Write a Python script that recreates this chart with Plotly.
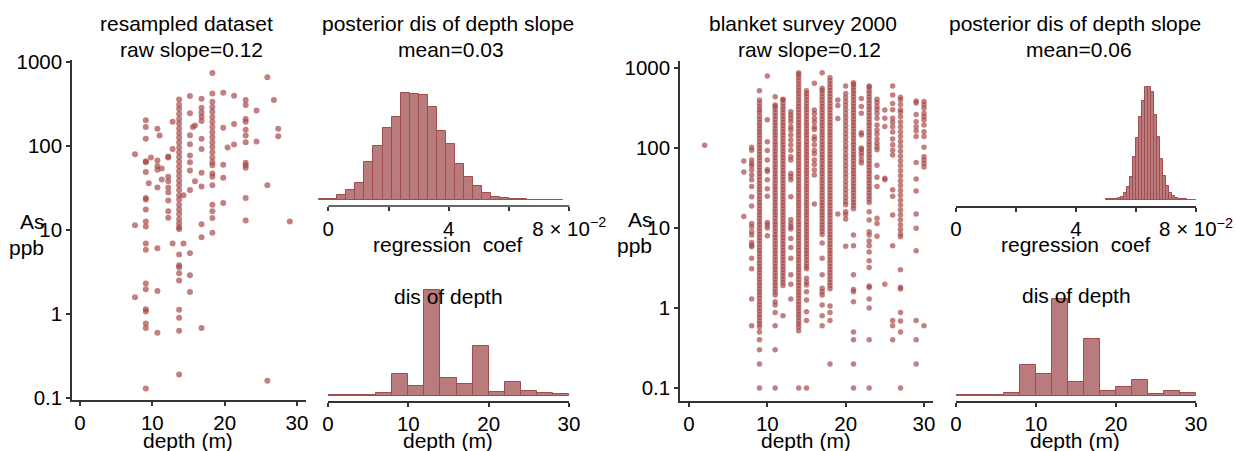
import plotly.graph_objects as go

# ---------------- resampled dataset: depth (m) and As (ppb) per depth column ----------------
res_depths = [7.6, 9.1, 9.5, 9.8, 10.7, 11.0, 11.3, 12.2, 12.8, 13.7, 14.3, 15.2, 15.6, 15.9,
              16.8, 18.3, 19.8, 20.4, 21.3, 22.9, 24.4, 25.9, 26.8, 27.4, 29.0]
res_as = [
    [80, 11.4, 1.58],
    [202, 168, 122, 66, 64, 49, 24, 23, 17.5, 12.6, 11, 6.9, 5.8, 2.3, 1.97, 1.14, 1.07, 0.77, 0.68, 0.13],
    [36],
    [73],
    [161, 67, 58, 52, 32, 6.05, 1.88, 0.6],
    [133],
    [54, 40],
    [75, 73, 43, 38, 32, 28, 22.5, 16.7, 14],
    [195, 92, 6.9],
    [359, 310, 275, 240, 210, 185, 162, 142, 125, 110, 96, 84, 74, 65, 57, 50, 44, 38.5, 34, 30, 26,
     23, 20, 17.5, 15.5, 13.5, 12, 10.8, 10.3, 5.1, 3.8, 3.6, 3.05, 2.5, 1.12, 0.9, 0.63, 0.19],
    [26, 6.9],
    [394, 245, 134, 105, 77, 64, 51, 30, 5.3, 2.9, 1.83],
    [168],
    [176, 38],
    [365, 286, 250, 223, 198, 122, 92, 48, 33, 11.7, 8.2, 0.68],
    [740, 423, 336, 292, 255, 222, 193, 168, 146, 127, 111, 97, 84, 73, 64, 59, 47, 43, 34, 20, 16.7, 13.9, 9.3],
    [431, 165, 60, 42, 21],
    [96],
    [397, 183, 104],
    [352, 307, 209, 195, 156, 133, 111, 63, 59, 55, 24, 13],
    [265, 113],
    [657, 34, 0.16],
    [352],
    [161, 131],
    [12.6],
]

# ---------------- blanket survey 2000: depth (m) and As (ppb) per depth column ----------------
bs_depths = [2, 7, 8, 9, 10, 11, 12, 13, 14, 15, 16, 17, 18, 19, 20, 21, 22, 23, 24, 25, 26, 27, 29, 30]
bs_as = [
    [108],
    [69, 50, 13.9],
    [102, 94, 71, 64, 60, 53, 46, 40, 33, 24.6, 18.8, 11.4, 10.4, 9, 8.2, 6.6, 6.1, 5.85, 4.2, 3.1, 1.3, 0.6],
    [521, 398, 365, 330, 300, 280, 251, 229, 209, 191, 174, 158, 145, 132, 120, 110, 100, 91.2, 83.2,
     75.9, 69.2, 63.1, 57.5, 52.5, 47.9, 43.7, 39.8, 36.3, 33.1, 30.2, 27.5, 25.1, 22.9, 20.9, 19.1,
     17.4, 15.8, 14.5, 13.2, 12.0, 11.0, 10.0, 9.12, 8.32, 7.59, 6.92, 6.31, 5.75, 5.25, 4.79, 4.37,
     3.98, 3.63, 3.31, 3.02, 2.75, 2.51, 2.29, 2.09, 1.91, 1.74, 1.58, 1.45, 1.32, 1.20, 1.10, 1.00,
     0.91, 0.83, 0.76, 0.69, 0.63, 0.58, 0.5, 0.4, 0.3, 0.2, 0.1],
    [794, 226, 120, 93, 71, 54, 51, 40, 31, 25, 11.7, 10.9, 10, 8],
    [436, 345, 331, 302, 275, 251, 229, 209, 191, 174, 158, 145, 132, 120, 110, 100, 91.2, 83.2, 75.9,
     69.2, 63.1, 57.5, 52.5, 47.9, 43.7, 39.8, 36.3, 33.1, 30.2, 27.5, 25.1, 22.9, 20.9, 19.1, 17.4,
     15.8, 14.5, 13.2, 12.0, 11.0, 10.0, 9.12, 8.32, 7.59, 6.92, 6.31, 5.75, 5.25, 4.79, 4.37, 3.98,
     3.63, 3.31, 3.02, 2.75, 2.51, 2.29, 2.09, 1.91, 1.74, 1.58, 1.45, 1.2, 1.09, 0.88, 0.6, 0.3, 0.1],
    [407, 398, 363, 331, 302, 275, 251, 229, 209, 191, 174, 158, 145, 132, 120, 110, 100, 91.2, 83.2,
     75.9, 69.2, 63.1, 57.5, 52.5, 47.9, 43.7, 39.8, 36.3, 33.1, 30.2, 27.5, 25.1, 22.9, 20.9, 19.1,
     17.4, 15.8, 14.5, 13.2, 12.0, 11.0, 10.0, 9.12, 8.32, 7.59, 6.92, 6.31, 5.75, 5.25, 4.79, 4.37,
     3.98, 3.63, 3.31, 3.02, 2.75, 2.51, 2.29, 2.09, 1.91, 0.8],
    [284, 258, 235, 213, 185, 168, 145, 126, 109, 94, 78, 71, 48, 44, 40, 24.6, 12.8, 11.4, 10.4,
     9.7, 7.4, 5.7, 4.2, 2.6, 1.98, 1.3],
    [872, 832, 759, 692, 631, 575, 525, 479, 437, 398, 363, 331, 302, 275, 251, 229, 209, 191, 174,
     158, 145, 132, 120, 110, 100, 91.2, 83.2, 75.9, 69.2, 63.1, 57.5, 52.5, 47.9, 43.7, 39.8, 36.3,
     33.1, 30.2, 27.5, 25.1, 22.9, 20.9, 19.1, 17.4, 15.8, 14.5, 13.2, 12.0, 11.0, 10.0, 9.12, 8.32,
     7.59, 6.92, 6.31, 5.75, 5.25, 4.79, 4.37, 3.98, 3.63, 3.31, 3.02, 2.75, 2.51, 2.29, 2.09, 1.91,
     1.74, 1.58, 1.45, 1.32, 1.20, 1.10, 1.00, 0.91, 0.83, 0.76, 0.69, 0.63, 0.58, 0.52, 0.1],
    [520, 479, 437, 398, 363, 331, 302, 275, 251, 229, 209, 191, 174, 158, 145, 132, 120, 110, 100,
     91.2, 83.2, 75.9, 69.2, 63.1, 57.5, 52.5, 47.9, 43.7, 39.8, 36.3, 33.1, 30.2, 27.5, 25.1, 22.9,
     20.9, 19.1, 17.4, 15.8, 14.5, 13.2, 12.0, 11.0, 10.0, 9.12, 8.32, 7.59, 6.92, 6.31, 5.75, 5.25,
     4.79, 4.37, 3.98, 3.63, 3.31, 3.1, 2.35, 2.1, 1.94, 1.6, 1.26, 0.9, 0.7, 0.1],
    [644, 299, 270, 236, 212, 185, 170, 138, 128, 110, 94, 85, 71, 62, 53, 46, 20],
    [872, 560, 525, 479, 437, 398, 363, 331, 302, 275, 251, 229, 209, 191, 174, 158, 145, 132, 120,
     110, 100, 91.2, 83.2, 75.9, 69.2, 63.1, 57.5, 52.5, 47.9, 43.7, 39.8, 36.3, 33.1, 30.2, 27.5,
     25.1, 22.9, 20.9, 19.1, 17.4, 15.8, 14.5, 13.2, 12.0, 11.0, 10.0, 9.12, 8.32, 6.5, 4.2, 2.6,
     1.76, 1.6, 1.45, 1.09, 0.8, 0.6],
    [759, 692, 631, 575, 525, 479, 437, 398, 363, 331, 302, 275, 251, 229, 209, 191, 174, 158, 145,
     132, 120, 110, 100, 91.2, 83.2, 75.9, 69.2, 63.1, 57.5, 52.5, 47.9, 43.7, 39.8, 36.3, 33.1, 30.2,
     27.5, 25.1, 22.9, 20.9, 19.1, 17.4, 15.8, 14.5, 13.2, 12.0, 11.0, 10.0, 9.12, 8.32, 7.59, 6.92,
     6.31, 5.75, 5.25, 4.79, 4.37, 3.98, 3.63, 3.31, 3.02, 2.75, 2.51, 2.29, 2.09, 1.91, 1.74, 1.06,
     0.88, 0.7, 0.2],
    [398, 340, 234, 15],
    [596, 480, 428, 381, 340, 303, 270, 241, 215, 191, 170, 152, 135, 121, 107, 96, 85, 76, 68, 60.5,
     54, 48, 43, 38.2, 34, 30.3, 27, 24.1, 21.5, 19.5, 16, 14.8, 13, 5.9],
    [656, 620, 575, 525, 479, 437, 398, 363, 331, 302, 275, 251, 229, 209, 191, 174, 158, 145, 132,
     120, 110, 100, 91.2, 83.2, 75.9, 69.2, 63.1, 57.5, 52.5, 47.9, 43.7, 39.8, 36.3, 33.1, 30.2,
     27.5, 25.1, 22.9, 20.9, 19.1, 17.4, 8.2, 6, 2.6, 1.7, 1.6, 1.2, 0.5, 0.4, 0.2, 0.1],
    [417, 330, 271, 155, 145, 100, 96, 88, 80, 71, 65],
    [596, 575, 525, 479, 437, 398, 363, 331, 302, 275, 251, 229, 209, 191, 174, 158, 145, 132, 120,
     110, 100, 91.2, 83.2, 75.9, 69.2, 63.1, 57.5, 52.5, 47.9, 43.7, 39.8, 36.3, 33.1, 30.2, 27.5,
     25.1, 22.9, 20.9, 16, 12.6, 9, 8.2, 6.9, 6, 5, 3.9, 3.2, 1.88, 1.8, 1.3, 1.0, 0.4, 0.1],
    [407, 370, 330, 300, 270, 235, 194, 168, 150, 130, 115, 104, 95, 61, 43, 33, 13.2, 11.4, 7.9],
    [298, 235, 186, 42, 40, 1.98],
    [596, 459, 361, 300, 235, 210, 185, 159, 130, 110, 94, 82, 30, 25, 14.5, 6, 0.7, 0.6, 0.4],
    [430, 400, 350, 300, 280, 245, 212, 185, 160, 139, 121, 105, 91, 79, 69, 60, 52, 45, 39, 34,
     29.5, 25.6, 22.3, 19.4, 16.8, 14.6, 12.7, 11, 9.6, 8.4, 7.8, 3.0, 1.82, 1.73, 0.88, 0.69, 0.5, 0.1],
    [387, 365, 263, 213, 185, 163, 139, 66, 41, 29, 15, 9.9, 5.2, 0.7, 0.4, 0.2],
    [380, 347, 313, 271, 246, 224, 194, 160, 139, 102, 78, 71, 64, 58, 0.6],
]

# ---------------- posterior histograms of depth slope ----------------
post_res_start, post_res_width = -0.003, 0.003
post_res_counts = [2, 3, 15, 31, 50, 115, 163, 215, 249, 320, 317, 314, 278, 208, 169, 109, 68, 42,
                   21, 9, 5, 3, 2, 1, 1, 1, 1]
post_bs_start, post_bs_width = 0.050, 0.001
post_bs_counts = [2, 2, 3, 3, 5, 10, 22, 38, 68, 128, 187, 248, 297, 338, 338, 325, 255, 188, 122,
                  73, 42, 22, 12, 5, 3, 2, 2, 1, 1, 1]

# ---------------- depth histograms ----------------
depth_bin_start, depth_bin_width = 0, 2
depth_res_counts = [2, 2, 2, 9, 65, 30, 318, 53, 36, 148, 11, 40, 14, 9, 4]
depth_bs_counts = [2, 1, 1, 7, 92, 66, 290, 41, 169, 15, 25, 48, 5, 14, 9]

# ---------------- tick labels ----------------
as_tickvals = [0.1, 1, 10, 100, 1000]
as_ticktext = ["0.1", "1", "10", "100", "1000"]
depth_ticks = [0, 10, 20, 30]
coef_tickvals = [0, 0.04, 0.08]
coef_ticktext = ["0", "4", "8 \u00d7 10<sup>\u22122</sup>"]
coef_minor_step = 0.02

# ---------------- figure ----------------
W, H = 1236, 451
FONT = "Liberation Sans, Arial, sans-serif"
PT = "rgba(165,68,68,0.68)"
BAR_FILL = "#B97B7B"
BAR_LINE = "#A24E4E"
AX = "#333333"


def px(x):
    return x / W


def py(y):
    return 1 - y / H


def flatten(depths, cols):
    xs, ys = [], []
    for d, col in zip(depths, cols):
        for v in col:
            xs.append(d)
            ys.append(v)
    return xs, ys


def centers(start, width, n):
    return [start + width * (i + 0.5) for i in range(n)]


fig = go.Figure()

rx, ry = flatten(res_depths, res_as)
fig.add_trace(go.Scatter(x=rx, y=ry, mode="markers", xaxis="x", yaxis="y",
                         marker=dict(size=6, color=PT, line=dict(width=0))))
bx, by = flatten(bs_depths, bs_as)
fig.add_trace(go.Scatter(x=bx, y=by, mode="markers", xaxis="x4", yaxis="y4",
                         marker=dict(size=5.5, color=PT, line=dict(width=0))))

bar_style = dict(marker=dict(color=BAR_FILL, line=dict(color=BAR_LINE, width=1)))
fig.add_trace(go.Bar(x=centers(post_res_start, post_res_width, len(post_res_counts)), y=post_res_counts,
                     width=post_res_width, xaxis="x2", yaxis="y2", **bar_style))
fig.add_trace(go.Bar(x=centers(depth_bin_start, depth_bin_width, len(depth_res_counts)), y=depth_res_counts,
                     width=depth_bin_width, xaxis="x3", yaxis="y3", **bar_style))
fig.add_trace(go.Bar(x=centers(post_bs_start, post_bs_width, len(post_bs_counts)), y=post_bs_counts,
                     width=post_bs_width, xaxis="x5", yaxis="y5", **bar_style))
fig.add_trace(go.Bar(x=centers(depth_bin_start, depth_bin_width, len(depth_bs_counts)), y=depth_bs_counts,
                     width=depth_bin_width, xaxis="x6", yaxis="y6", **bar_style))

tickfont = dict(family=FONT, size=20.5, color="black")
common = dict(showgrid=False, zeroline=False, ticks="outside", ticklen=4, tickwidth=1.5,
              tickcolor=AX, tickfont=tickfont, linecolor=AX, linewidth=1.5, automargin=False)
coef_minor = dict(ticks="outside", ticklen=4, tickwidth=1.5, tickcolor=AX, tick0=0,
                  dtick=coef_minor_step, showgrid=False)
hist_y = dict(visible=False, showgrid=False, zeroline=False, fixedrange=True)

fig.update_layout(
    width=W, height=H, margin=dict(l=0, r=0, t=0, b=0, pad=0, autoexpand=False),
    paper_bgcolor="white", plot_bgcolor="white", showlegend=False,
    barmode="overlay", bargap=0,
    font=dict(family=FONT, size=21, color="black"),
    # resampled scatter
    xaxis=dict(domain=[px(72), px(306)], range=[-1.106, 31.24], tickvals=depth_ticks, showline=True,
               anchor="y", **common),
    yaxis=dict(domain=[py(400), py(60)], type="log", range=[-1.024, 3.024], tickvals=as_tickvals,
               ticktext=as_ticktext, showline=True, anchor="x", **common),
    # posterior (resampled)
    xaxis2=dict(domain=[px(315), px(575)], range=[-0.004415, 0.08189], tickvals=coef_tickvals,
                ticktext=coef_ticktext, minor=coef_minor, showline=False, anchor="y2", **common),
    yaxis2=dict(domain=[py(206), py(80)], range=[-18, 360], anchor="x2", **hist_y),
    # depth hist (resampled)
    xaxis3=dict(domain=[px(328), px(569)], range=[0, 30], tickvals=depth_ticks, showline=True,
                anchor="y3", **common),
    yaxis3=dict(domain=[py(401), py(280)], range=[-16, 347], anchor="x3", **hist_y),
    # blanket scatter
    xaxis4=dict(domain=[px(680), px(933)], range=[-1.149, 31.15], tickvals=depth_ticks, showline=True,
                anchor="y4", **common),
    yaxis4=dict(domain=[py(401), py(61)], type="log", range=[-1.1625, 3.0875], tickvals=as_tickvals,
                ticktext=as_ticktext, showline=True, anchor="x4", **common),
    # posterior (blanket)
    xaxis5=dict(domain=[px(956), px(1196)], range=[0, 0.08], tickvals=coef_tickvals,
                ticktext=coef_ticktext, minor=coef_minor, showline=True, anchor="y5", **common),
    yaxis5=dict(domain=[py(206), py(80)], range=[-18, 360], anchor="x5", **hist_y),
    # depth hist (blanket)
    xaxis6=dict(domain=[px(956), px(1196)], range=[0, 30], tickvals=depth_ticks, showline=True,
                anchor="y6", **common),
    yaxis6=dict(domain=[py(401), py(280)], range=[-16, 347], anchor="x6", **hist_y),
)

# axis line of the left posterior histogram spans only 0 .. 0.08
fig.add_shape(type="line", xref="x2", yref="paper", x0=0, x1=0.08, y0=py(206), y1=py(206),
              line=dict(color=AX, width=1.5))

texts = [
    ("resampled dataset", 186, 23, "center"),
    ("raw slope=0.12", 192, 49, "center"),
    ("posterior dis of depth slope", 448, 23, "center"),
    ("mean=0.03", 451, 49, "center"),
    ("blanket survey 2000", 803, 23, "center"),
    ("raw slope=0.12", 809, 49, "center"),
    ("posterior dis of depth slope", 1075, 23, "center"),
    ("mean=0.06", 1079, 49, "center"),
    ("regression\u00a0 coef", 448, 244, "center"),
    ("regression\u00a0 coef", 1076, 244, "center"),
    ("dis of depth", 448, 296, "center"),
    ("dis of depth", 1076, 295, "center"),
    ("depth (m)", 188, 440, "center"),
    ("depth (m)", 448, 440, "center"),
    ("depth (m)", 806, 440, "center"),
    ("depth (m)", 1075, 440, "center"),
    ("As", 47, 222, "right"),
    ("ppb", 46, 247, "right"),
    ("As", 655, 219, "right"),
    ("ppb", 654, 245, "right"),
]
for t, x, y, anchor in texts:
    fig.add_annotation(text=t, x=px(x), y=py(y), xref="paper", yref="paper", showarrow=False,
                       xanchor=anchor, yanchor="middle", font=dict(family=FONT, size=21, color="black"))

fig.write_html("out.html")
